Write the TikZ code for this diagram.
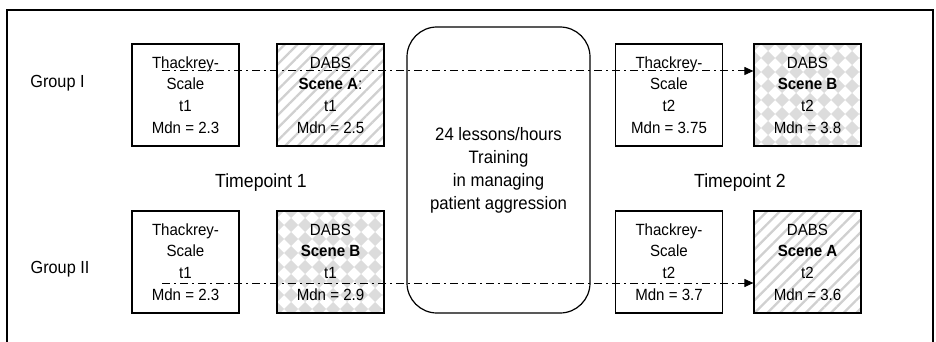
\documentclass[tikz,border=0pt]{standalone}
\usepackage{fontspec}
\setmainfont[FakeStretch=0.93]{Liberation Sans}
\usetikzlibrary{patterns.meta,arrows.meta,calc}
\definecolor{stripecol}{HTML}{D0D0D0}
\definecolor{diamcol}{HTML}{DCDCDC}
\tikzset{
  box/.style={draw, line width=1.2pt, minimum width=107pt, minimum height=102pt,
    inner sep=0pt, align=center, font=\fontsize{16.2}{21.7}\selectfont, fill=white},
  stripes/.style={pattern={Lines[angle=45,distance=9pt,line width=2.3pt]}, pattern color=stripecol},
  diamonds/.style={path picture={
    \foreach \i in {0,...,8}{\foreach \j in {0,...,8}{
      \fill[diamcol] ($(path picture bounding box.north west)+(\i*14,\j*14)$)
        +(-7,0) -- +(0,-7) -- +(7,0) -- +(0,7) -- cycle;}}}},
  flow/.style={line width=1pt, dash pattern=on 8pt off 4pt on 2pt off 4pt,
    -{Triangle[length=9pt,width=8pt]}},
  lbl/.style={font=\fontsize{17.5}{20}\selectfont, anchor=base},
  tlbl/.style={font=\fontsize{19}{21}\selectfont, anchor=base},
}
\begin{document}
\begin{tikzpicture}[x=1pt,y=-1pt]
\useasboundingbox (0,0) rectangle (936,342);
% outer frame (open at the bottom)
\draw[line width=1.3pt] (7,342) -- (7,10) -- (933,10) -- (933,342);

% training box
\node[draw, line width=1.2pt, rounded corners=30pt, minimum width=183pt, minimum height=286pt,
  align=center, font=\fontsize{18}{23}\selectfont] (train) at (498.5,170)
  {24 lessons/hours\\Training\\in managing\\patient aggression};

% Group I
\node[box] (thA1) at (185.5,95) {Thackrey-\\Scale\\t1\\Mdn = 2.3};
\node[box, stripes] (dA1) at (330.5,95) {DABS\\\textbf{Scene A}:\\t1\\Mdn = 2.5};
\node[box] (thA2) at (669,95) {Thackrey-\\Scale\\t2\\Mdn = 3.75};
\node[box, diamonds] (dA2) at (807.5,95) {DABS\\\textbf{Scene B}\\t2\\Mdn = 3.8};

% Group II
\node[box] (thB1) at (185.5,262) {Thackrey-\\Scale\\t1\\Mdn = 2.3};
\node[box, diamonds] (dB1) at (330.5,262) {DABS\\\textbf{Scene B}\\t1\\Mdn = 2.9};
\node[box] (thB2) at (669,262) {Thackrey-\\Scale\\t2\\Mdn = 3.7};
\node[box, stripes] (dB2) at (807.5,262) {DABS\\\textbf{Scene A}\\t2\\Mdn = 3.6};

% labels
\node[lbl] (g1) at (57.5,88) {Group I};
\node[lbl] (g2) at (60,273) {Group II};
\node[tlbl] (tp1) at (261,187) {Timepoint 1};
\node[tlbl] (tp2) at (740,187) {Timepoint 2};

% connectors
\coordinate (s1) at (162,71);
\coordinate (s2) at (162,283);
\draw[flow] (s1) -- (dA2.west |- s1);
\draw[flow] (s2) -- (dB2.west |- s2);
\end{tikzpicture}
\end{document}
